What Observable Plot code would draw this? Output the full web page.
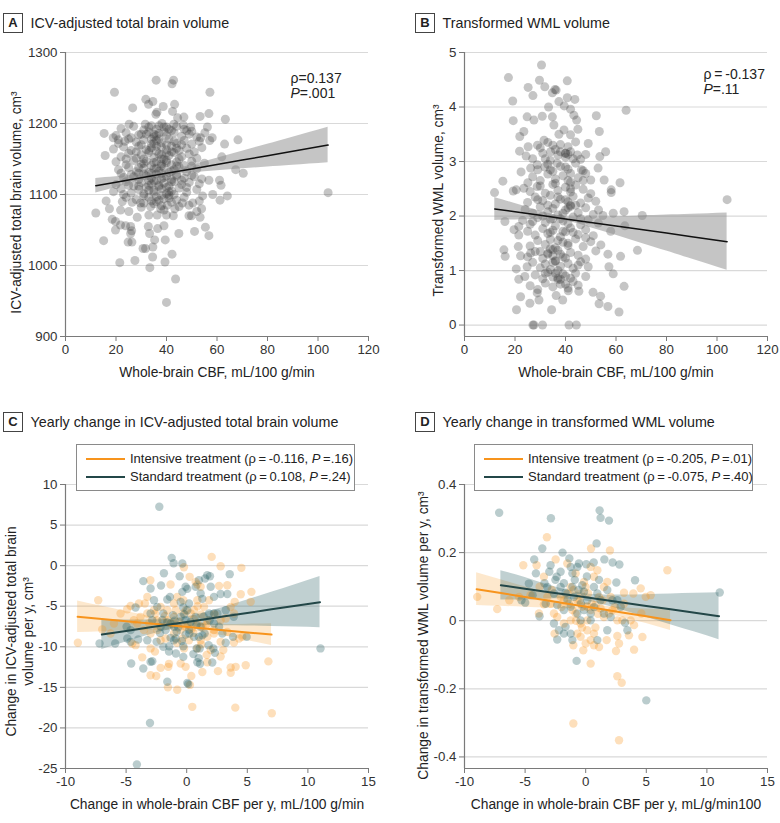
<!DOCTYPE html>
<html><head><meta charset="utf-8">
<script src="https://cdn.jsdelivr.net/npm/d3@7"></script>
<script src="https://cdn.jsdelivr.net/npm/@observablehq/plot@0.6"></script>
<style>
body{margin:0;background:#fff;font-family:"Liberation Sans",Arial,sans-serif;color:#222}
#root{position:relative;width:780px;height:823px;overflow:hidden;background:#fff}
.tbox{position:absolute;width:18px;height:18px;border:1.5px solid #444;font-weight:bold;font-size:13px;text-align:center;line-height:18px;color:#222}
.ttl{position:absolute;font-size:14.3px;line-height:20px;white-space:nowrap;color:#222}
.legend{position:absolute;width:277px;height:45px;border:1px solid #8a8a8a;background:#fff;font-size:13px;color:#222}
.row{position:absolute;left:0;height:16px;line-height:16px;white-space:nowrap}
.sw{position:absolute;left:9px;width:39px;height:2px;top:7px}
.lt{position:absolute;left:53px;top:0}
.plot{position:absolute}
</style></head><body><div id="root"></div><script>
// ---------- Panel A: whole-brain CBF vs ICV-adjusted total brain volume ----------
const aPts = [[19.4,1244],[35.9,1261],[42.8,1261],[42.2,1256],[57.2,1244],[31.8,1234],[34.6,1231],[32.9,1227],[38.7,1224],[43.2,1227],[26.6,1222],[42.4,1217],[36.2,1216],[44.4,1208],[46.9,1209],[53.3,1210],[56.8,1214],[63.3,1206],[35.8,1213],[25.2,1199],[31.6,1199],[38.2,1200],[42.9,1199],[46.6,1198],[49.6,1195],[56.2,1195],[15.3,1186],[53.5,1180],[57.1,1176],[68.3,1177],[18.9,1180],[20.9,1177],[23.5,1175],[63,1171],[61.9,1153],[15.7,1155],[67.4,1135],[70.4,1130],[61,1120],[56.8,1120],[61.6,1113],[58.3,1100],[64.1,1098],[61.2,1092],[104,1102.6],[12,1074],[16.1,1091],[17.4,1080],[18.5,1065],[19.8,1062],[19.8,1050],[23.8,1056],[26.2,1049],[15.1,1035],[24.8,1033],[26.3,1033],[30.7,1024],[31.7,1024],[21.5,1004],[27.5,1007],[33.4,997],[34.5,1012],[34.6,1026],[35.3,1036],[32.8,1055],[33.3,1045],[36.5,1052],[39,1056],[39.5,1036],[39.4,1005],[42.2,1016],[43.6,981],[40,948],[44.9,1045],[49.9,1070],[51.1,1048],[55.4,1054],[56.8,1042],[53.3,1068],[53.9,1080],[52,1076],[53,1091],[54.3,1098],[50.4,1088],[55.2,1187],[58.1,1180],[21.8,1078],[25.1,1076],[28.4,1068],[33,1071],[36.3,1071],[40,1071],[42.7,1070],[48.9,1070],[46.3,1088],[43.3,1080],[40.3,1085],[37.7,1080],[33.7,1083],[29.7,1088],[26.4,1089],[22.5,1090],[21.8,1057],[25.8,1055],[25.8,1045],[48.9,1085],
[22,1193],[27,1196],[31,1191],[34,1197],[36,1192],[39,1195],[42,1190],[44,1196],[47,1192],[50,1189],
[20,1183],[24,1187],[29,1184],[33,1188],[35,1181],[37,1186],[40,1183],[43,1187],[46,1182],[49,1185],[52,1181],
[21,1172],[25,1178],[28,1174],[31,1177],[34,1171],[36,1176],[38,1173],[41,1178],[44,1172],[47,1176],[50,1171],[53,1175],
[19,1164],[23,1167],[26,1162],[29,1168],[32,1163],[34,1166],[36,1161],[38,1167],[40,1163],[42,1168],[45,1162],[48,1165],[51,1160],[54,1166],
[22,1153],[25,1158],[28,1151],[30,1156],[33,1159],[35,1152],[37,1157],[39,1150],[41,1155],[43,1159],[46,1153],[49,1157],[52,1151],
[20,1146],[24,1142],[27,1148],[30,1143],[32,1147],[34,1141],[36,1146],[38,1143],[40,1148],[42,1142],[44,1146],[47,1141],[50,1147],[55,1144],
[21,1135],[25,1138],[28,1132],[31,1137],[33,1131],[35,1136],[37,1133],[39,1138],[41,1131],[43,1135],[45,1139],[48,1132],[52,1136],
[23,1124],[26,1128],[29,1121],[32,1126],[34,1123],[36,1129],[38,1122],[40,1126],[42,1121],[44,1128],[47,1123],[50,1127],[54,1122],
[20,1114],[24,1118],[27,1112],[30,1117],[33,1113],[35,1119],[37,1111],[39,1116],[41,1112],[43,1118],[46,1114],[49,1117],
[19,1104],[22,1108],[26,1102],[29,1107],[31,1101],[33,1106],[35,1103],[38,1108],[40,1101],[42,1105],[45,1109],[48,1103],[52,1107],
[24,1096],[28,1093],[31,1098],[34,1091],[36,1097],[39,1094],[41,1099],[44,1092],[47,1096],
[30,1082],[35,1087],[38,1084],[42,1089],[45,1083],
[33,1195],[35,1185],[37,1178],[40,1158],[38,1140],[36,1120],[41,1104],[44,1165],[31,1150],[29,1130],
[32,1185],[34,1178],[36,1168],[38,1156],[40,1145],[42,1133],[39,1124],[37,1113],[35,1106],[33,1096],[31,1088],[36,1090],[38,1099],[40,1110],[42,1118],[44,1126],[45,1150],[43,1175],[41,1192],[39,1188],[37,1197],[35,1172],[33,1162],[31,1144],[29,1138],[27,1125],[25,1113],[23,1100],[28,1160],[30,1170],[32,1110],[34,1130],[36,1137],[38,1150],[40,1170],[42,1160],[44,1140],[46,1120],[48,1110],[50,1140],[30,1185],[26,1180],[24,1150],[22,1130],[46,1170],[48,1190],[51,1125],[53,1115],[39,1078],[41,1095],[43,1100],[37,1092],[34,1115],[36,1183],[40,1195],[38,1130],[35,1145],[33,1120],[31,1129],[29,1112]];
const fitAX = [12,20,30,40,50,60,70,80,90,104];
const fitAY = [1112.4,1117.4,1123.6,1129.8,1136.0,1142.2,1148.5,1154.7,1160.9,1169.6];
const ciALo = [1102.1,1109.9,1119.2,1126.4,1130.4,1133.3,1136.1,1138.6,1141.1,1144.6];
const ciAHi = [1122.7,1124.9,1128.0,1133.2,1141.6,1151.1,1160.9,1170.8,1180.7,1194.6];

// ---------- Panel B: whole-brain CBF vs transformed WML volume ----------
const bPts = [[30.5,4.77],[17.4,4.54],[29.7,4.49],[40.7,4.48],[25.2,4.36],[31.8,4.37],[35.8,4.32],[36.3,4.31],[27.1,4.21],[34.8,4.26],[19.1,4.11],[40.7,4.17],[43.7,4.14],[37.4,4.1],[33.3,4.0],[39.5,4.02],[42,3.96],[64,3.94],[19.3,3.75],[24.8,3.82],[30.8,3.83],[34.8,3.82],[43.3,3.85],[44.4,3.76],[52.2,3.84],[27.5,3.76],[23.5,3.55],[21.9,3.46],[35.4,3.67],[39.4,3.58],[44.9,3.59],[53.4,3.55],[31.5,3.39],[37.4,3.5],[42,3.49],[25.2,3.27],[28.9,3.3],[21.8,3.19],[28.8,2.94],[34.1,3.18],[40,3.15],[44.7,3.12],[49,3.33],[53.6,3.09],[55.9,3.18],[24.4,3.1],[22.4,2.81],[26.2,2.88],[31.8,2.9],[36.7,2.97],[42,2.78],[46.3,2.85],[52.9,2.88],[50,2.66],[55.3,2.66],[61.6,2.61],[58.1,2.48],[58.1,2.43],[15.2,2.64],[11.9,2.43],[19.3,2.46],[20.5,2.48],[23.5,2.51],[25.1,2.61],[28.8,2.54],[63.2,2.08],[70.4,2.01],[104,2.3],[54.8,2.01],[58.9,2.05],[53.1,2.11],[16,1.9],[19.6,1.75],[21.5,1.81],[21.5,1.65],[15.6,1.38],[16.1,1.26],[21.3,1.44],[22.2,1.27],[20.5,1.03],[21.5,0.84],[22.2,0.52],[20.6,0.28],[24.8,1.07],[26.2,1.32],[23.9,0.89],[25.9,0.4],[27.1,0],[27.5,0],[30.9,0],[41.4,0],[44.3,0],[28.8,0.59],[29.5,0.46],[34.5,0.28],[36.3,0.54],[38.9,0.46],[41.1,0.63],[45.3,0.62],[50.9,0.6],[53.3,0.39],[53.9,0.53],[56.8,0.34],[61.2,0.24],[63.2,0.71],[58.9,0.94],[57.2,1.07],[56.8,1.3],[61.8,1.26],[68.5,1.37],[57.9,1.72],[63.5,1.82],
[30,3.25],[33,3.35],[36,3.22],[38,3.31],[41,3.27],[44,3.36],
[27,3.05],[31,3.15],[34,3.02],[37,3.12],[40,3.08],[42,3.18],[46,3.04],[48,3.13],
[29,2.85],[33,2.95],[35,2.82],[38,2.91],[41,2.86],[44,2.97],[47,2.83],
[27,2.72],[30,2.65],[33,2.77],[36,2.68],[39,2.74],[42,2.62],[45,2.7],[48,2.78],
[26,2.45],[30,2.55],[32,2.42],[35,2.58],[37,2.47],[40,2.53],[42,2.44],[44,2.57],[47,2.49],[50,2.41],
[25,2.25],[28,2.35],[31,2.28],[34,2.38],[36,2.22],[38,2.31],[41,2.26],[43,2.36],[46,2.24],[49,2.33],[52,2.27],
[24,2.12],[27,2.05],[30,2.17],[33,2.08],[35,2.14],[37,2.02],[40,2.11],[42,2.18],[45,2.06],[48,2.15],[51,2.03],
[23,1.92],[26,1.85],[29,1.97],[32,1.88],[34,1.94],[36,1.82],[39,1.91],[41,1.86],[43,1.98],[46,1.84],[49,1.93],[53,1.87],
[25,1.72],[28,1.65],[31,1.77],[33,1.68],[35,1.74],[38,1.62],[40,1.71],[42,1.78],[45,1.66],[48,1.75],[51,1.64],
[26,1.45],[29,1.55],[32,1.48],[34,1.57],[36,1.42],[39,1.52],[41,1.46],[44,1.58],[47,1.44],[50,1.53],[54,1.47],
[25,1.25],[28,1.35],[31,1.22],[33,1.32],[35,1.27],[37,1.37],[40,1.23],[42,1.33],[45,1.28],[48,1.21],[52,1.36],
[27,1.15],[30,1.05],[32,1.12],[34,1.02],[36,1.17],[38,1.08],[41,1.13],[43,1.04],[46,1.16],[49,1.07],
[28,0.92],[31,0.85],[33,0.97],[35,0.88],[37,0.83],[39,0.94],[42,0.86],[44,0.95],[48,0.89],
[26,0.72],[29,0.65],[32,0.77],[35,0.7],[38,0.75],[41,0.68],[45,0.73],
[34,1.4],[35,1.38],[37,0.86],[38,0.84],[40,3.15],[41,3.13],[41,2.15],[42,2.2],[36,1.18],[35,1.95],[39,1.72],[40,0.9],
[33,1.3],[35,1.15],[37,1.0],[39,1.25],[41,1.5],[43,1.7],[38,1.95],[40,2.3],[42,2.5],[36,2.6],[34,2.85],[32,3.05],[38,3.18],[40,2.9],[44,2.2],[46,1.95],[48,1.6],[45,1.1],[43,0.8],[40,0.75],[36,0.95],[34,1.7],[31,2.0],[29,2.3],[27,1.9],[30,1.35],[32,0.95],[37,1.55],[39,2.05],[41,2.65],[43,3.05],[35,3.3],[37,2.35],[33,2.2],[38,1.3],[47,2.65]];
const fitBX = [12,20,30,40,50,60,70,80,90,104];
const fitBY = [2.13,2.078,2.013,1.947,1.882,1.817,1.752,1.687,1.621,1.53];
const ciBLo = [1.92,1.928,1.938,1.907,1.787,1.647,1.502,1.357,1.211,1.005];
const ciBHi = [2.34,2.228,2.088,1.987,1.977,1.987,2.002,2.017,2.031,2.055];

// ---------- Panel C: yearly change, ICV-adjusted total brain volume ----------
const cIntPts = [[2.06,1.08],[2.8,-0.07],[4.51,-0.27],[0.24,-1.38],[-3.0,-1.79],[-1.33,-2.33],[0.74,-2.0],[0.88,-2.33],[1.15,-2.61],[2.67,-2.49],[3.35,-2.41],[4.46,-3.52],[5.34,-3.23],[5.28,-4.46],[3.96,-4.46],[-7.3,-4.26],[-4.91,-5.37],[-4.63,-4.96],[-3.94,-4.67],[-3.45,-4.67],[-2.7,-5.49],[-2.15,-5.08],[-4.36,-6.72],[-3.81,-6.31],[-3.25,-5.9],[-2.43,-6.72],[-5.46,-5.9],[-1.6,-5.49],[-1.05,-4.67],[-0.78,-3.85],[-0.28,-4.26],[-0.06,-5.49],[0.33,-5.9],[0.6,-5.49],[0.88,-4.26],[1.43,-5.08],[1.84,-4.26],[-8.98,-9.51],[-6.97,-7.87],[-6.0,-7.13],[-6.28,-8.37],[-4.22,-9.8],[-3.67,-11.3],[-2.98,-10.2],[-2.62,-10.6],[-2.15,-9.19],[-1.74,-8.98],[-2.98,-13.5],[-2.51,-13.6],[-1.55,-15.0],[-0.78,-15.3],[-1.52,-12.47],[-0.5,-12.06],[-0.09,-12.47],[0.38,-13.6],[0.27,-14.7],[0.46,-17.4],[1.29,-13.1],[1.65,-11.0],[1.7,-11.9],[2.58,-13.0],[2.8,-11.2],[3.63,-12.56],[3.63,-13.2],[4.04,-12.47],[4.87,-12.27],[4.01,-17.5],[6.74,-11.8],[7.02,-18.2],[2.8,-9.39],[3.02,-10.4],[3.9,-9.47],[4.32,-8.98],[4.59,-8.78],[1.15,-9.19],[1.7,-8.78],[2.25,-8.37],[-0.36,-8.98],[0.19,-9.19],[0.55,-8.29],[-1.05,-8.37],[-0.5,-7.95],[-0.09,-7.54],[0.88,-7.13],[1.29,-7.54],[1.7,-6.72],[2.25,-7.95],[2.8,-6.72],[3.22,-6.52],[-1.6,-6.72],[-1.05,-6.31],[-2.43,-7.95],[-2.98,-8.37],[-3.53,-7.95],[-4.08,-7.13],[0.88,-10.2],[-0.22,-10.2],[1.98,-10.4],[3.35,-8.16],[3.63,-5.08],[3.9,-5.9],[-3.25,-3.85],[-0.23,-0.2],[-2.15,-12.6],[-1.46,-12.1],[-4.5,-9.6],
[-1.2,-7.2],[-0.6,-6.9],[0.1,-7.3],[0.6,-6.6],[1.2,-6.0],[-1.8,-6.2],[-0.3,-5.9],[0.9,-5.0],[-0.9,-5.5],[1.6,-7.3],[-2.6,-5.9],[2.3,-6.0],[-3.1,-7.1],[0.4,-7.8],[-0.8,-9.5],[1.2,-9.7]];
const cStdPts = [[-2.26,7.25],[-1.24,0.96],[-1.08,0.3],[-0.36,0.26],[-1.88,-0.93],[-0.58,-1.3],[-3.58,-1.91],[-2.12,-2.45],[-2.98,-2.82],[0.05,-2.86],[1.01,-1.79],[1.7,-1.17],[1.92,-1.3],[1.51,-1.59],[1.98,-2.61],[3.55,-1.05],[2.8,-3.5],[3.35,-3.5],[2.25,-3.85],[1.15,-3.43],[1.29,-4.09],[-1.6,-4.17],[-1.38,-3.85],[-4.22,-5.16],[-1.13,-6.1],[-1.93,-5.9],[-0.5,-4.46],[0.19,-4.67],[-0.28,-5.16],[0.05,-5.49],[1.84,-5.9],[2.25,-5.9],[3.22,-5.49],[-2.98,-5.9],[-2.84,-6.72],[-4.63,-7.95],[-4.96,-7.54],[-7.19,-9.6],[-5.9,-9.6],[-4.9,-8.98],[-4.63,-9.39],[-4.0,-9.1],[-3.25,-9.19],[-2.48,-9.39],[-1.93,-10],[-1.44,-9.93],[-1.33,-8.9],[-1.05,-9.19],[-0.91,-8.98],[-0.28,-9.93],[-0.09,-8.49],[0.21,-8.37],[0.6,-8.78],[1.0,-8.78],[1.29,-8.57],[0.82,-10.2],[1.07,-10.2],[0.55,-10.9],[0.99,-11.4],[0.88,-11.9],[1.1,-12.1],[1.81,-9.8],[2.11,-11.94],[2.33,-10.75],[2.2,-10.2],[-0.28,-11.24],[-0.89,-10.83],[-1.46,-10.6],[-2.98,-11.86],[-2.84,-11.78],[-4.58,-12.06],[-3.58,-12.68],[-1.6,-14.3],[0.05,-14.45],[0.13,-14.6],[-3.03,-19.4],[-4.11,-24.5],[11.04,-10.2],[4.95,-8.78],[3.82,-8.78],[3.22,-9.51],[2.67,-7.54],[2.94,-8.37],[3.88,-6.31],[1.89,-6.72],[2.25,-7.13],[2.53,-5.9],[1.48,-8.37],[1.15,-7.54],[-2.15,-7.54],[-1.74,-7.95],[-1.33,-7.13],[-1.05,-7.54],[-0.83,-8.16],[-0.5,-6.31],[-0.09,-6.72],[0.33,-6.93],[0.74,-6.31],[-2.7,-4.26],[-2.43,-5.08],[-0.09,-2.61],[-0.36,-3.23],[0.74,-2.61],
[-1.6,-7.0],[-0.7,-7.6],[0.2,-7.9],[-2.2,-8.3],[-1.0,-6.8],[0.8,-7.3],[-0.2,-6.0],[1.4,-6.3],[-2.0,-6.7],[-0.4,-9.3]];
const fitCIntX = [-9,-7,-5,-3,-1,1,3,5,7];
const fitCIntY = [-6.3,-6.575,-6.85,-7.125,-7.4,-7.675,-7.95,-8.225,-8.5];
const ciCIntLo = [-8.25,-8.145,-8.06,-7.995,-7.99,-8.185,-8.64,-9.225,-9.85];
const ciCIntHi = [-4.35,-5.005,-5.64,-6.255,-6.81,-7.165,-7.26,-7.225,-7.15];
const fitCStdX = [-7,-5,-3,-1,1,3,5,7,9,11];
const fitCStdY = [-8.49,-8.047,-7.603,-7.16,-6.717,-6.273,-5.83,-5.387,-4.943,-4.5];
const ciCStdLo = [-10.34,-9.397,-8.513,-7.77,-7.437,-7.393,-7.43,-7.487,-7.563,-7.65];
const ciCStdHi = [-6.64,-6.697,-6.693,-6.55,-5.997,-5.153,-4.23,-3.287,-2.323,-1.35];

// ---------- Panel D: yearly change, transformed WML volume ----------
const dIntPts = [[-3.2,0.245],[0.44,0.212],[2.0,0.206],[-5.15,0.163],[-4.05,0.163],[6.74,0.148],[-3.45,0.129],[-2.48,0.18],[-1.52,0.168],[-0.14,0.114],[0.68,0.129],[0.96,0.148],[-8.95,0.07],[-7.3,0.034],[-4.55,0.075],[-3.86,0.021],[-3.17,0.07],[-2.9,0.05],[-2.62,0.021],[-2.57,-0.038],[-2.07,0.07],[-1.8,0.06],[-1.38,0.05],[-1.1,0.031],[-0.83,0.021],[-0.69,0.06],[-0.42,0.08],[-0.28,0.041],[0.13,0.041],[0.41,0.031],[0.82,0.046],[1.1,0.07],[1.23,0.036],[1.5,0.011],[1.92,0.021],[2.2,0.031],[2.61,0.001],[3.02,0.001],[3.16,0.082],[3.93,0.08],[4.54,0.095],[4.95,0.07],[5.36,0.075],[4.59,0.021],[3.71,0.001],[3.99,-0.013],[3.57,-0.043],[4.68,-0.048],[3.99,-0.085],[2.5,-0.089],[2.75,-0.067],[2.61,-0.045],[1.73,-0.057],[1.1,-0.077],[0.68,-0.072],[0.41,-0.057],[0.0,-0.067],[-0.2,-0.087],[-1.02,-0.072],[0.41,-0.126],[2.61,-0.163],[2.97,-0.182],[-1.02,-0.302],[2.75,-0.351],[-0.69,-0.038],[-0.42,-0.047],[0.13,-0.028],[0.68,-0.038],[0.13,0.001],[-0.42,-0.008],[-1.24,0.001],[-1.8,-0.008],[-2.35,0.011],[-3.45,0.048],[1.5,0.099],[1.78,0.114],[2.06,0.07],[3.16,0.05],[0.0,0.099],[-1.24,0.099],[-0.83,0.139],[0.41,0.158],
[-1.5,0.08],[-0.5,0.06],[0.5,0.05],[1.0,0.02],[-2.0,0.04],[-1.0,0.09],[0.2,0.08],[-0.8,0.0],[0.8,-0.02],[1.4,0.06],[-2.8,0.09],[-3.8,0.1],[-5.5,0.07],[-6.3,0.06],[2.4,0.04],[-0.3,-0.02]];
const dStdPts = [[-7.14,0.317],[-2.87,0.301],[1.15,0.324],[1.23,0.302],[1.92,0.294],[0.9,0.227],[-3.58,0.212],[-4.25,0.18],[-1.91,0.2],[-1.35,0.183],[1.54,0.18],[2.22,0.171],[2.78,0.165],[0.66,0.171],[0.05,0.166],[-0.56,0.168],[-0.69,0.158],[-1.24,0.158],[-1.1,0.139],[-2.07,0.144],[-2.4,0.129],[-3.0,0.144],[-4.11,0.139],[-2.9,0.163],[-4.69,0.109],[-4.99,0.053],[-3.81,0.013],[-4.38,0.075],[-3.17,0.099],[-2.62,0.08],[-2.07,0.099],[-1.66,0.082],[-1.1,0.099],[-0.97,0.07],[-0.28,0.104],[-0.14,0.085],[0.13,0.06],[0.68,0.099],[0.96,0.08],[1.23,0.06],[1.78,0.09],[2.2,0.06],[2.53,0.112],[-2.35,0.046],[-1.8,0.031],[-1.24,0.041],[-2.62,-0.008],[-2.21,-0.028],[-1.8,-0.038],[-1.66,-0.018],[-1.24,-0.038],[-1.1,-0.057],[-2.35,-0.055],[-0.75,-0.118],[0.96,-0.057],[0.41,0.001],[-0.42,0.001],[1.78,-0.028],[3.24,-0.006],[3.44,-0.028],[4.07,0.119],[11.06,0.083],[5.0,-0.234],[-0.69,0.021],[-0.14,0.031],[0.41,0.021],[1.5,0.021],[2.06,0.011],[2.61,0.06],[2.89,0.041],
[-1.8,0.11],[-0.9,0.12],[0.1,0.13],[-1.5,0.06],[-0.4,0.05],[0.7,0.04],[-2.5,0.12],[-3.4,0.11],[1.1,0.12],[-0.6,0.09],[-3.3,0.05],[-5.3,0.06]];
const fitDIntX = [-9,-7,-5,-3,-1,1,3,5,7];
const fitDIntY = [0.0925,0.0811,0.0697,0.0584,0.047,0.0356,0.0242,0.0129,0.0015];
const ciDIntLo = [0.0445,0.0422,0.0398,0.0372,0.0333,0.0256,0.0104,-0.0085,-0.0285];
const ciDIntHi = [0.1405,0.12,0.0996,0.0796,0.0607,0.0456,0.038,0.0343,0.0315];
const fitDStdX = [-7,-5,-3,-1,1,3,5,7,9,11];
const fitDStdY = [0.104,0.0939,0.0838,0.0738,0.0637,0.0536,0.0435,0.0334,0.0234,0.0133];
const ciDStdLo = [0.061,0.0608,0.0638,0.0626,0.0514,0.0318,0.0104,-0.0115,-0.0335,-0.0557];
const ciDStdHi = [0.147,0.127,0.1038,0.085,0.076,0.0754,0.0766,0.0783,0.0803,0.0823];

// ---------- ticks & labels ----------
const xTicksTop = [0,20,40,60,80,100,120];
const yTicksA = [900,1000,1100,1200,1300];
const yTicksB = [0,1,2,3,4,5];
const xTicksBottom = [-10,-5,0,5,10,15];
const yTicksC = [-25,-20,-15,-10,-5,0,5,10];
const yTicksD = [-0.4,-0.2,0,0.2,0.4];

const ORANGE = "#f7941d", TEAL = "#2e6468", TEAL_LINE = "#234748";
const FONT = '"Liberation Sans", Arial, Helvetica, sans-serif';

const fitTable = (xs, ys, lo, hi) => xs.map((x, i) => ({x, y: ys[i], lo: lo[i], hi: hi[i]}));

function makePlot(o) {
  return Plot.plot({
    width: o.width, height: o.height,
    marginLeft: o.ml, marginRight: o.mr, marginTop: o.mt, marginBottom: o.mb,
    style: {fontFamily: FONT, fontSize: "13.3px", color: "#333", background: "transparent", overflow: "visible"},
    x: {domain: o.xd, label: null},
    y: {domain: o.yd, label: null},
    marks: [
      Plot.gridY({ticks: o.yt, stroke: "#d9d9d9", strokeOpacity: 1, strokeWidth: 1.2}),
      ...o.marks,
      Plot.ruleY([o.yd[0]], {stroke: "#7a7a7a", strokeWidth: 1.2}),
      Plot.ruleX([o.xd[0]], {stroke: "#7a7a7a", strokeWidth: 1.2}),
      Plot.axisX({ticks: o.xt, tickSize: 5, tickPadding: 3, stroke: "#7a7a7a", tickFormat: d => String(d), label: null}),
      Plot.axisY({ticks: o.yt, tickSize: 5, tickPadding: 3, stroke: "#7a7a7a", tickFormat: d => String(d), label: null}),
      Plot.text([o.xl], {frameAnchor: "bottom", dy: 36, lineAnchor: "middle", fontSize: 13.8, fill: "#222"}),
      Plot.text([o.yl], {frameAnchor: "left", rotate: -90, dx: o.ylDx, dy: o.ylDy, lineAnchor: "middle", textAnchor: "middle", fontSize: 13.8, fill: "#222", lineHeight: 1.22})
    ]
  });
}

function statText(rho, pRest, dx, dy1, dy2) {
  return [
    Plot.text([rho], {frameAnchor: "top-left", dx, dy: dy1, textAnchor: "start", lineAnchor: "middle", fontSize: 14, fill: "#222"}),
    Plot.text(["P"], {frameAnchor: "top-left", dx, dy: dy2, textAnchor: "start", lineAnchor: "middle", fontSize: 14, fill: "#222", fontStyle: "italic"}),
    Plot.text([pRest], {frameAnchor: "top-left", dx: dx + 9.3, dy: dy2, textAnchor: "start", lineAnchor: "middle", fontSize: 14, fill: "#222"})
  ];
}

const root = document.getElementById("root");
function place(el, left, top) {
  const d = document.createElement("div");
  d.className = "plot"; d.style.left = left + "px"; d.style.top = top + "px";
  d.appendChild(el); root.appendChild(d);
}
function title(letter, text, left, top) {
  const b = document.createElement("div");
  b.className = "tbox"; b.textContent = letter; b.style.left = left + "px"; b.style.top = top + "px";
  root.appendChild(b);
  const t = document.createElement("div");
  t.className = "ttl"; t.textContent = text; t.style.left = (left + 27.5) + "px"; t.style.top = (top) + "px";
  root.appendChild(t);
}
function legend(left, top, intText, stdText) {
  const L = document.createElement("div");
  L.className = "legend"; L.style.left = left + "px"; L.style.top = top + "px";
  L.innerHTML =
    `<div class="row" style="top:6px"><div class="sw" style="background:${ORANGE}"></div><div class="lt">${intText}</div></div>` +
    `<div class="row" style="top:24px"><div class="sw" style="background:${TEAL_LINE}"></div><div class="lt">${stdText}</div></div>`;
  root.appendChild(L);
}

// Panel A
const fitA = fitTable(fitAX, fitAY, ciALo, ciAHi);
place(makePlot({
  width: 390, height: 350, ml: 65, mr: 22, mt: 12, mb: 54,
  xd: [0, 120], yd: [900, 1300], xt: xTicksTop, yt: yTicksA,
  xl: "Whole-brain CBF, mL/100 g/min", yl: "ICV-adjusted total brain volume, cm³", ylDx: -50, ylDy: 8,
  marks: [
    Plot.dot(aPts, {x: d => d[0], y: d => d[1], r: 4.5, fill: "#404040", fillOpacity: 0.3, stroke: "none"}),
    Plot.areaY(fitA, {x: "x", y1: "lo", y2: "hi", fill: "#8c8c8c", fillOpacity: 0.5, curve: "natural"}),
    Plot.line(fitA, {x: "x", y: "y", stroke: "#111", strokeWidth: 1.5}),
    ...statText("ρ=0.137", "=.001", 225, 26, 41.5)
  ]
}), 0, 40);
title("A", "ICV-adjusted total brain volume", 3, 13);

// Panel B
const fitB = fitTable(fitBX, fitBY, ciBLo, ciBHi);
place(makePlot({
  width: 390, height: 350, ml: 74, mr: 13, mt: 12, mb: 54,
  xd: [0, 120], yd: [-0.21, 5], xt: xTicksTop, yt: yTicksB,
  xl: "Whole-brain CBF, mL/100 g/min", yl: "Transformed WML volume, cm³", ylDx: -27, ylDy: 6,
  marks: [
    Plot.dot(bPts, {x: d => d[0], y: d => d[1], r: 4.5, fill: "#404040", fillOpacity: 0.3, stroke: "none"}),
    Plot.areaY(fitB, {x: "x", y1: "lo", y2: "hi", fill: "#8c8c8c", fillOpacity: 0.5, curve: "natural"}),
    Plot.line(fitB, {x: "x", y: "y", stroke: "#111", strokeWidth: 1.5}),
    ...statText("ρ\u2009=\u2009-0.137", "=.11", 239, 21.7, 37.3)
  ]
}), 390, 40);
title("B", "Transformed WML volume", 415, 13);

// Panel C
const fitCInt = fitTable(fitCIntX, fitCIntY, ciCIntLo, ciCIntHi);
const fitCStd = fitTable(fitCStdX, fitCStdY, ciCStdLo, ciCStdHi);
place(makePlot({
  width: 390, height: 383, ml: 65, mr: 22, mt: 44, mb: 55,
  xd: [-10, 15], yd: [-25, 10], xt: xTicksBottom, yt: yTicksC,
  xl: "Change in whole-brain CBF per y, mL/100 g/min", yl: "Change in ICV-adjusted total brain\nvolume per y, cm³", ylDx: -46.5, ylDy: 5,
  marks: [
    Plot.areaY(fitCInt, {x: "x", y1: "lo", y2: "hi", fill: ORANGE, fillOpacity: 0.22, curve: "natural"}),
    Plot.areaY(fitCStd, {x: "x", y1: "lo", y2: "hi", fill: TEAL, fillOpacity: 0.3, curve: "natural"}),
    Plot.dot(cIntPts, {x: d => d[0], y: d => d[1], r: 4.2, fill: ORANGE, fillOpacity: 0.3, stroke: "none"}),
    Plot.dot(cStdPts, {x: d => d[0], y: d => d[1], r: 4.2, fill: TEAL, fillOpacity: 0.33, stroke: "none"}),
    Plot.line(fitCInt, {x: "x", y: "y", stroke: ORANGE, strokeWidth: 2}),
    Plot.line(fitCStd, {x: "x", y: "y", stroke: TEAL_LINE, strokeWidth: 2})
  ]
}), 0, 440);
title("C", "Yearly change in ICV-adjusted total brain volume", 3, 412);
legend(76, 444, "Intensive treatment (ρ\u2009=\u2009-0.116, <i>P</i>\u2009=.16)", "Standard treatment (ρ\u2009=\u20090.108, <i>P</i>\u2009=.24)");

// Panel D
const fitDInt = fitTable(fitDIntX, fitDIntY, ciDIntLo, ciDIntHi);
const fitDStd = fitTable(fitDStdX, fitDStdY, ciDStdLo, ciDStdHi);
place(makePlot({
  width: 390, height: 383, ml: 74, mr: 13, mt: 44, mb: 55,
  xd: [-10, 15], yd: [-0.434, 0.4], xt: xTicksBottom, yt: yTicksD,
  xl: "Change in whole-brain CBF per y, mL/g/min100", yl: "Change in transformed WML volume per y, cm³", ylDx: -42, ylDy: 9,
  marks: [
    Plot.areaY(fitDInt, {x: "x", y1: "lo", y2: "hi", fill: ORANGE, fillOpacity: 0.22, curve: "natural"}),
    Plot.areaY(fitDStd, {x: "x", y1: "lo", y2: "hi", fill: TEAL, fillOpacity: 0.3, curve: "natural"}),
    Plot.dot(dIntPts, {x: d => d[0], y: d => d[1], r: 4.2, fill: ORANGE, fillOpacity: 0.3, stroke: "none"}),
    Plot.dot(dStdPts, {x: d => d[0], y: d => d[1], r: 4.2, fill: TEAL, fillOpacity: 0.33, stroke: "none"}),
    Plot.line(fitDInt, {x: "x", y: "y", stroke: ORANGE, strokeWidth: 2}),
    Plot.line(fitDStd, {x: "x", y: "y", stroke: TEAL_LINE, strokeWidth: 2})
  ]
}), 390, 440);
title("D", "Yearly change in transformed WML volume", 415, 412);
legend(474, 444, "Intensive treatment (ρ\u2009=\u2009-0.205, <i>P</i>\u2009=.01)", "Standard treatment (ρ\u2009=\u2009-0.075, <i>P</i>\u2009=.40)");
</script></body></html>
